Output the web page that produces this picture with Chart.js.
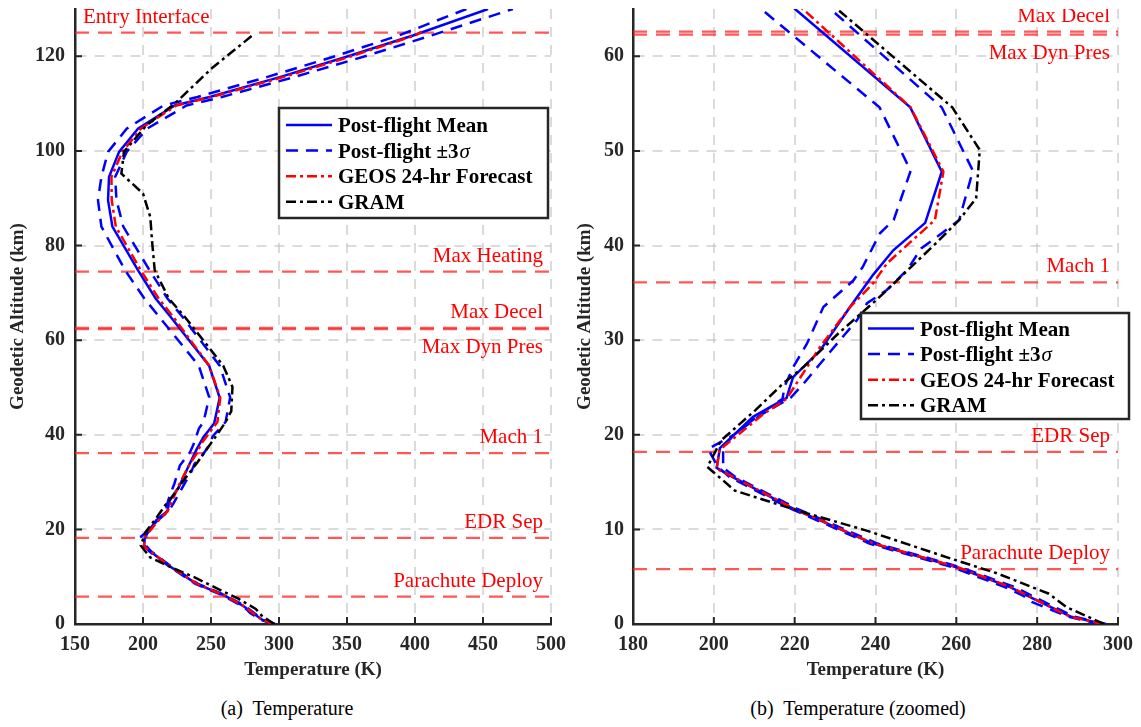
<!DOCTYPE html>
<html>
<head>
<meta charset="utf-8">
<script src="https://cdn.jsdelivr.net/npm/chart.js@4.4.1/dist/chart.umd.min.js"></script>
<style>
  body { margin: 0; background: #fff; }
  #wrap { position: relative; width: 1141px; height: 727px; }
  canvas { position: absolute; top: 0; }
  #chartA { left: 0; }
  #chartB { left: 570px; }
  .cap { position: absolute; top: 697px; width: 400px; text-align: center; white-space: pre;
         font: 20px "Liberation Serif", "Times New Roman", serif; color: #000; }
</style>
</head>
<body>
<div id="wrap">
  <canvas id="chartA" width="570" height="690"></canvas>
  <canvas id="chartB" width="571" height="690"></canvas>
  <div class="cap" style="left:87px">(a)  Temperature</div>
  <div class="cap" style="left:658px">(b)  Temperature (zoomed)</div>
</div>
<script>
const FONT = '"Liberation Serif", "Times New Roman", serif';

// profiles: altitude (km) and temperature (K)
const meanAlt = [0, 0.8, 2.5, 3.9, 6.0, 8.5, 12.2, 15.5, 16.5, 18.6, 21.9, 23.9, 26.1, 28.9, 33.5, 36.9, 39.5, 42.4, 47.8, 54.6, 65.0, 68.8, 74.7, 84.0, 89.6, 94.5, 99.8, 104.7, 109.6, 111.4, 115.6, 119.9, 124.4, 130];
const meanTemp = [296.3, 288.2, 279.9, 273.3, 260.1, 239.4, 219.6, 204.8, 200.7, 201.5, 209.7, 218.0, 219.6, 226.3, 233.7, 239.4, 244.4, 252.3, 256.4, 248.6, 220.1, 209.3, 196.5, 177.5, 174.3, 175.0, 182.4, 196.3, 223.3, 249.0, 300.5, 349.6, 398.5, 453.7];

const sigLoAlt = [0, 0.8, 2.3, 3.0, 3.9, 6.0, 8.5, 12.2, 15.5, 16.6, 18.5, 20.0, 22.2, 23.8, 25.1, 27.2, 29.6, 33.5, 36.3, 37.7, 41.3, 42.7, 47.9, 54.6, 64.9, 68.8, 74.7, 84.0, 89.6, 94.5, 99.8, 104.7, 109.6, 111.4, 115.6, 119.9, 124.4, 130];
const sigLoTemp = [295.5, 287.5, 278.8, 276.5, 272.0, 259.0, 238.5, 219.0, 204.0, 201.0, 198.6, 205.0, 211.5, 217.0, 217.5, 219.7, 223.0, 227.1, 234.5, 236.8, 241.1, 244.5, 248.7, 241.0, 212.0, 201.0, 187.0, 169.4, 166.9, 169.4, 174.3, 188.0, 215.0, 240.0, 291.0, 340.0, 388.0, 437.8];

const sigHiAlt = [0, 0.8, 2.5, 3.9, 6.0, 8.5, 12.2, 15.5, 16.5, 18.7, 20.1, 22.2, 23.9, 25.4, 27.5, 30.0, 32.1, 33.9, 35.3, 37.4, 39.7, 41.3, 42.7, 47.9, 54.6, 64.9, 68.8, 74.7, 84.0, 89.6, 94.5, 99.8, 104.7, 109.6, 111.4, 115.6, 119.9, 124.4, 130];
const sigHiTemp = [297.0, 289.0, 281.0, 274.5, 261.0, 240.5, 220.5, 205.5, 202.3, 202.3, 205.2, 212.0, 219.0, 222.2, 226.3, 231.2, 235.4, 237.9, 242.8, 247.8, 251.3, 256.4, 260.7, 264.1, 256.4, 229.1, 218.0, 205.0, 185.5, 180.5, 179.5, 188.0, 203.0, 232.0, 258.0, 311.0, 362.0, 412.0, 472.0];

const geosAlt = [0, 0.8, 2.5, 3.9, 6.0, 8.5, 12.2, 15.5, 16.4, 18.4, 22.2, 23.8, 24.4, 29.3, 33.5, 36.0, 38.1, 42.7, 47.8, 54.6, 64.9, 68.8, 74.7, 84.0, 89.6, 94.5, 99.8, 104.7, 109.6, 111.4, 115.6, 119.9, 124.4, 125.2];
const geosTemp = [296.3, 288.0, 280.0, 273.5, 260.3, 239.6, 219.8, 205.0, 200.7, 201.4, 212.3, 218.0, 218.9, 226.3, 233.7, 239.4, 242.8, 254.7, 256.8, 248.7, 222.3, 211.5, 198.5, 180.0, 177.0, 176.8, 184.8, 198.5, 224.5, 250.5, 303.0, 352.0, 400.0, 405.0];

const gramAlt = [0, 1.8, 3.2, 5.35, 6.75, 9.9, 12.0, 13.4, 14.1, 16.6, 19.4, 22.6, 25.4, 27.2, 30.7, 34.2, 35.6, 37.7, 40.5, 42.7, 45.0, 50.1, 54.6, 64.9, 68.8, 74.8, 81.1, 86.0, 91.0, 95.2, 99.8, 105.4, 110.0, 117.7, 124.8];
const gramTemp = [296.5, 287.2, 282.9, 270.1, 259.8, 237.6, 220.6, 210.3, 205.2, 198.4, 201.8, 210.3, 217.1, 222.3, 230.8, 240.1, 243.6, 248.7, 255.6, 260.7, 264.9, 265.8, 259.0, 230.8, 219.0, 208.6, 206.6, 205.4, 200.0, 184.1, 186.0, 202.5, 223.3, 251.5, 282.1];

// trajectory events (altitude, km)
const eventNames = ['Entry Interface', 'Max Heating', 'Max Decel', 'Max Dyn Pres', 'Mach 1', 'EDR Sep', 'Parachute Deploy'];
const eventAlts = [125, 74.5, 62.6, 62.3, 36.1, 18.2, 5.8];

const xTicksA = [150, 200, 250, 300, 350, 400, 450, 500];
const yTicksA = [0, 20, 40, 60, 80, 100, 120];
const xTicksB = [180, 200, 220, 240, 260, 280, 300];
const yTicksB = [0, 10, 20, 30, 40, 50, 60];

const pts = (alt, temp) => alt.map((a, i) => ({x: temp[i], y: a}));

function makeDatasets(xmin, xmax) {
  const sets = [
    {label: 'Post-flight Mean', data: pts(meanAlt, meanTemp), borderColor: '#0000ff', borderWidth: 2.5, order: 3, inLegend: true},
    {label: 'Post-flight \u00b13\u03c3', data: pts(sigLoAlt, sigLoTemp), borderColor: '#0000ff', borderWidth: 2.5, borderDash: [12, 8], order: 4, inLegend: true},
    {label: 'sigma high', data: pts(sigHiAlt, sigHiTemp), borderColor: '#0000ff', borderWidth: 2.5, borderDash: [12, 8], order: 4},
    {label: 'GEOS 24-hr Forecast', data: pts(geosAlt, geosTemp), borderColor: '#ff0000', borderWidth: 2.5, borderDash: [10, 4, 3, 4], order: 2, inLegend: true},
    {label: 'GRAM', data: pts(gramAlt, gramTemp), borderColor: '#000000', borderWidth: 2.5, borderDash: [10, 4, 3, 4], order: 1, inLegend: true},
  ];
  eventAlts.forEach((alt, i) => {
    sets.push({label: eventNames[i], data: [{x: xmin, y: alt}, {x: xmax, y: alt}],
      borderColor: 'rgba(255,30,30,0.75)', borderWidth: 2.2, borderDash: [14, 9], order: 8});
  });
  sets.forEach(s => { s.showLine = true; s.pointRadius = 0; s.fill = false; });
  return sets;
}

// red event names next to their lines
const eventLabels = {
  id: 'eventLabels',
  afterDatasetsDraw(chart) {
    const {ctx, chartArea: a, scales: {y}} = chart;
    ctx.save();
    ctx.beginPath();
    ctx.rect(a.left, a.top, a.right - a.left, a.bottom - a.top);
    ctx.clip();
    ctx.font = '21px ' + FONT;
    ctx.fillStyle = '#ff0000';
    ctx.textBaseline = 'alphabetic';
    eventNames.forEach((name, i) => {
      if (eventAlts[i] > y.max) return;
      const py = y.getPixelForValue(eventAlts[i]);
      const onLeft = name === 'Entry Interface';
      const below = name === 'Max Dyn Pres';
      ctx.textAlign = onLeft ? 'left' : 'right';
      ctx.fillText(name, onLeft ? a.left + 8 : a.right - 8, below ? py + 24 : py - 10);
    });
    ctx.restore();
  }
};

// small inward tick marks on the two axes
const innerTicks = {
  id: 'innerTicks',
  afterDraw(chart) {
    const {ctx, chartArea: a, scales: {x, y}} = chart;
    ctx.save();
    ctx.strokeStyle = '#262626';
    ctx.lineWidth = 2;
    ctx.beginPath();
    x.ticks.forEach(t => {
      const px = x.getPixelForValue(t.value);
      ctx.moveTo(px, a.bottom); ctx.lineTo(px, a.bottom - 7);
    });
    y.ticks.forEach(t => {
      const py = y.getPixelForValue(t.value);
      ctx.moveTo(a.left, py); ctx.lineTo(a.left + 7, py);
    });
    ctx.stroke();
    ctx.restore();
  }
};

// boxed legend inside the plot
const boxLegend = {
  id: 'boxLegend',
  afterDraw(chart, args, opts) {
    const {ctx, chartArea: a} = chart;
    const bx = a.left + opts.dx, by = a.top + opts.dy;
    ctx.save();
    ctx.fillStyle = '#fff';
    ctx.fillRect(bx, by, opts.w, opts.h);
    ctx.strokeStyle = '#262626';
    ctx.lineWidth = 2.5;
    ctx.strokeRect(bx, by, opts.w, opts.h);
    chart.data.datasets.filter(d => d.inLegend).forEach((d, i) => {
      const ry = by + opts.first + i * 25.6;
      ctx.strokeStyle = d.borderColor;
      ctx.lineWidth = d.borderWidth;
      ctx.setLineDash(d.borderDash || []);
      ctx.beginPath();
      ctx.moveTo(bx + 7, ry); ctx.lineTo(bx + 53, ry);
      ctx.stroke();
      ctx.setLineDash([]);
      ctx.fillStyle = '#000';
      ctx.textAlign = 'left';
      ctx.textBaseline = 'alphabetic';
      const tx = bx + 59, ty = ry + 7;
      const k = d.label.indexOf('\u03c3');
      ctx.font = 'bold 21px ' + FONT;
      if (k < 0) {
        ctx.fillText(d.label, tx, ty);
      } else {
        const head = d.label.slice(0, k);
        ctx.fillText(head, tx, ty);
        const w = ctx.measureText(head).width;
        ctx.font = 'italic 21px ' + FONT;
        ctx.fillText('\u03c3', tx + w + 1, ty);
      }
    });
    ctx.restore();
  }
};

function makeChart(id, cfg) {
  const tickFont = {family: FONT, size: 20, weight: 'bold'};
  const titleFont = {family: FONT, size: 19, weight: 'bold'};
  const gridStyle = {color: 'rgba(190,190,190,0.55)', lineWidth: 2, drawTicks: false, tickLength: 0};
  const borderStyle = {display: true, color: '#262626', width: 2.5, dash: [10, 8]};
  return new Chart(document.getElementById(id), {
    type: 'scatter',
    data: {datasets: makeDatasets(cfg.xmin, cfg.xmax)},
    options: {
      responsive: false,
      animation: false,
      layout: {padding: {left: 0, top: 9, right: cfg.padRight, bottom: 0}},
      plugins: {
        legend: {display: false},
        tooltip: {enabled: false},
        boxLegend: cfg.legend,
      },
      scales: {
        x: {
          type: 'linear', min: cfg.xmin, max: cfg.xmax,
          afterBuildTicks: s => { s.ticks = cfg.xTicks.map(v => ({value: v})); },
          afterFit: s => { s.height = 66; s.paddingLeft = 0; s.paddingRight = 0; },
          grid: gridStyle,
          border: borderStyle,
          ticks: {font: tickFont, color: '#262626', padding: 9, maxRotation: 0, autoSkip: false},
          title: {display: true, text: 'Temperature (K)', font: titleFont, color: '#262626', padding: {top: 0, bottom: 8.6}},
        },
        y: {
          type: 'linear', min: 0, max: cfg.ymax,
          afterBuildTicks: s => { s.ticks = cfg.yTicks.map(v => ({value: v})); },
          afterFit: s => { s.width = cfg.yWidth; s.paddingTop = 0; s.paddingBottom = 0; },
          grid: gridStyle,
          border: borderStyle,
          ticks: {font: tickFont, color: '#262626', padding: cfg.yPad, autoSkip: false},
          title: {display: true, text: 'Geodetic Altitude (km)', font: titleFont, color: '#262626', padding: {top: cfg.yTitlePad, bottom: 0}},
        },
      },
    },
    plugins: [eventLabels, innerTicks, boxLegend],
  });
}

makeChart('chartA', {
  xmin: 150, xmax: 500, ymax: 130, xTicks: xTicksA, yTicks: yTicksA,
  yWidth: 75, yPad: 10, yTitlePad: 6.6, padRight: 19,
  legend: {dx: 204, dy: 99, w: 269, h: 110, first: 17},
});

makeChart('chartB', {
  xmin: 180, xmax: 300, ymax: 65, xTicks: xTicksB, yTicks: yTicksB,
  yWidth: 63, yPad: 9, yTitlePad: 3.6, padRight: 23,
  legend: {dx: 228, dy: 304, w: 268, h: 106, first: 15.5},
});
</script>
</body>
</html>
